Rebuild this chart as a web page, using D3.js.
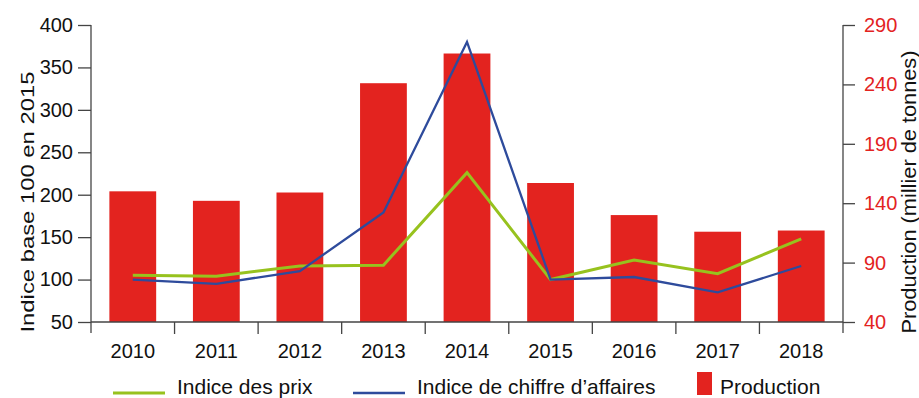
<!DOCTYPE html>
<html>
<head>
<meta charset="utf-8">
<script src="https://cdn.jsdelivr.net/npm/d3@7"></script>
<style>
  html, body { margin: 0; padding: 0; background: #fff; }
  svg { display: block; font-family: "Liberation Sans", Arial, sans-serif; }
</style>
</head>
<body>
<svg id="chart" width="919" height="398"></svg>
<script>
const years = ["2010","2011","2012","2013","2014","2015","2016","2017","2018"];
const production = [150, 142, 149, 241, 266, 157, 130, 116, 117];
const indicePrix = [105, 104, 116, 117, 226, 100, 123, 107, 148];
const indiceCA = [100, 95, 110, 179, 380, 100, 103, 85, 116];
const leftTicks = [50, 100, 150, 200, 250, 300, 350, 400];
const rightTicks = [40, 90, 140, 190, 240, 290];

const RED = "#E3231F", GREEN = "#97C21E", BLUE = "#2E4B9C", AXIS = "#444";

const svg = d3.select("#chart");
const x0 = 91, x1 = 843, yTop = 25, yBot = 322;

const x = d3.scaleBand().domain(years).range([x0, x1]).paddingInner(0.44).paddingOuter(0.22);
const xStep = d3.scaleBand().domain(years).range([x0, x1]);
const yL = d3.scaleLinear().domain([50, 400]).range([yBot, yTop]);
const yR = d3.scaleLinear().domain([40, 290]).range([yBot, yTop]);

// bars
svg.append("g").selectAll("rect").data(years).join("rect")
  .attr("x", d => x(d))
  .attr("width", x.bandwidth())
  .attr("y", (d, i) => yR(production[i]))
  .attr("height", (d, i) => yBot - yR(production[i]))
  .attr("fill", RED);

// lines
const cx = d => xStep(d) + xStep.bandwidth() / 2;
const lineL = d3.line().x((d, i) => cx(years[i])).y(d => yL(d));
svg.append("path").datum(indicePrix).attr("d", lineL)
  .attr("fill", "none").attr("stroke", GREEN).attr("stroke-width", 3).attr("stroke-linejoin", "miter");
svg.append("path").datum(indiceCA).attr("d", lineL)
  .attr("fill", "none").attr("stroke", BLUE).attr("stroke-width", 2.3).attr("stroke-linejoin", "miter");

// x axis
const gx = svg.append("g");
gx.append("line").attr("x1", x0).attr("x2", x1).attr("y1", yBot).attr("y2", yBot)
  .attr("stroke", AXIS).attr("stroke-width", 1.3);
gx.selectAll("line.tk").data(years.slice(1)).join("line").attr("class", "tk")
  .attr("x1", d => xStep(d)).attr("x2", d => xStep(d))
  .attr("y1", yBot).attr("y2", yBot + 12)
  .attr("stroke", AXIS).attr("stroke-width", 1.3);
gx.selectAll("text").data(years).join("text")
  .attr("x", d => cx(d)).attr("y", 358)
  .attr("text-anchor", "middle").attr("font-size", 20).attr("fill", "#111")
  .text(d => d);

// left axis
const gl = svg.append("g").attr("transform", `translate(${x0},0)`)
  .call(d3.axisLeft(yL).tickValues(leftTicks).tickSize(13).tickPadding(5).tickSizeOuter(0));
gl.select(".domain").remove();
gl.append("line").attr("x1", 0).attr("x2", 0).attr("y1", yTop).attr("y2", yBot + 11)
  .attr("stroke", AXIS).attr("stroke-width", 1.3);
gl.selectAll(".tick line").attr("stroke", AXIS).attr("stroke-width", 1.3);
gl.selectAll(".tick text").attr("font-size", 20).attr("fill", "#111")
  .attr("font-family", "Liberation Sans, Arial, sans-serif");

// right axis
const gr = svg.append("g").attr("transform", `translate(${x1},0)`)
  .call(d3.axisRight(yR).tickValues(rightTicks).tickSize(12).tickPadding(9).tickSizeOuter(0));
gr.select(".domain").remove();
gr.append("line").attr("x1", 0).attr("x2", 0).attr("y1", yTop).attr("y2", yBot + 11)
  .attr("stroke", AXIS).attr("stroke-width", 1.3);
gr.selectAll(".tick line").attr("stroke", AXIS).attr("stroke-width", 1.3);
gr.selectAll(".tick text").attr("font-size", 20).attr("fill", RED)
  .attr("font-family", "Liberation Sans, Arial, sans-serif");

// axis titles
svg.append("text")
  .attr("transform", "translate(33.5,202) rotate(-90)")
  .attr("text-anchor", "middle").attr("font-size", 18).attr("fill", "#111")
  .attr("textLength", 261).attr("lengthAdjust", "spacingAndGlyphs")
  .text("Indice base 100 en 2015");
svg.append("text")
  .attr("transform", "translate(916,192) rotate(-90)")
  .attr("text-anchor", "middle").attr("font-size", 19.5).attr("fill", "#111")
  .attr("textLength", 283).attr("lengthAdjust", "spacingAndGlyphs")
  .text("Production (millier de tonnes)");

// legend
const legend = [
  { label: "Indice des prix", type: "line", color: GREEN, sx: 113, tx: 177, w: 3 },
  { label: "Indice de chiffre d\u2019affaires", type: "line", color: BLUE, sx: 353, tx: 417, w: 2.3 },
  { label: "Production", type: "rect", color: RED, sx: 697, tx: 720 }
];
const lg = svg.append("g");
legend.forEach(l => {
  if (l.type === "line") {
    lg.append("line").attr("x1", l.sx).attr("x2", l.sx + 52).attr("y1", 393).attr("y2", 393)
      .attr("stroke", l.color).attr("stroke-width", l.w);
  } else {
    lg.append("rect").attr("x", l.sx).attr("y", 372).attr("width", 15).attr("height", 23).attr("fill", l.color);
  }
  lg.append("text").attr("x", l.tx).attr("y", 394).attr("font-size", 21).attr("fill", "#111").text(l.label);
});
</script>
</body>
</html>
